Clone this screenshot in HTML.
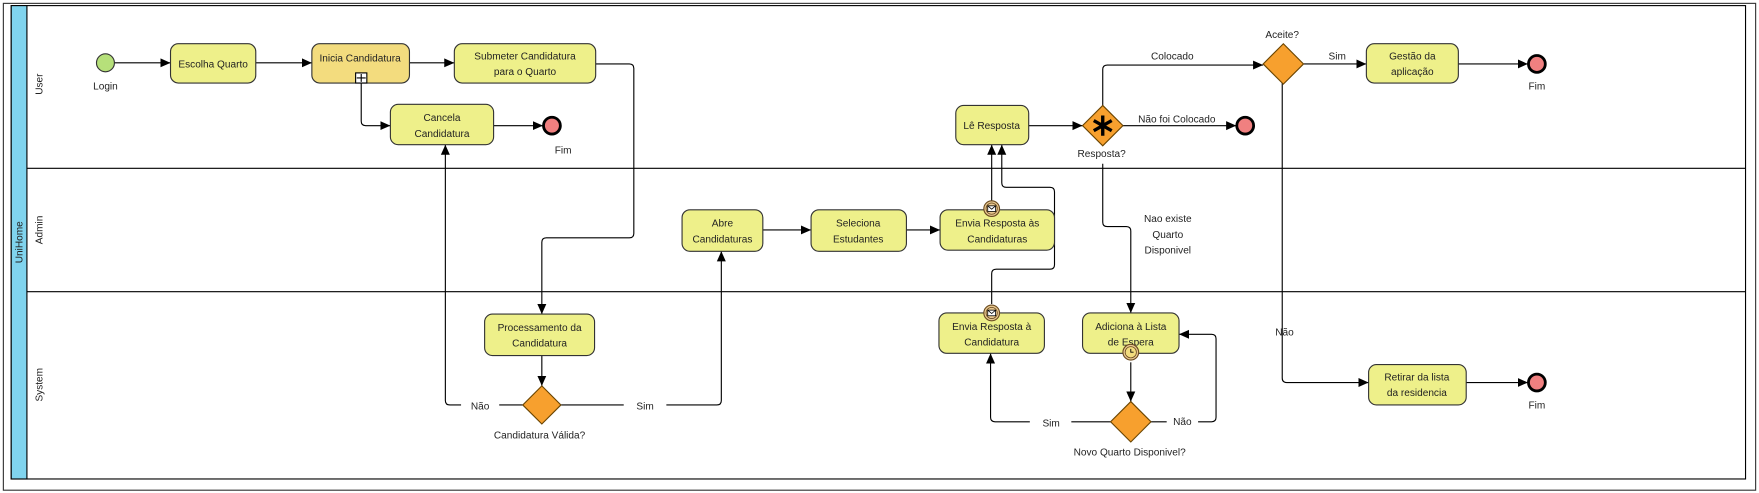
<!DOCTYPE html>
<html><head><meta charset="utf-8"><style>
html,body{margin:0;padding:0;background:#fff;}
svg{display:block;}
text{font-family:"Liberation Sans",sans-serif;font-size:9px;fill:#222;}
</style></head><body>
<svg width="1759" height="493" viewBox="0 0 1568 439.5" preserveAspectRatio="none" xmlns="http://www.w3.org/2000/svg">
<defs>
<marker id="a" markerWidth="10" markerHeight="10" refX="9" refY="5" orient="auto" markerUnits="userSpaceOnUse">
<path d="M0,1 L9,5 L0,9 Z" fill="#000"/></marker>
</defs>
<rect x="0" y="0" width="1568" height="439.5" fill="#fff"/>
<rect x="3" y="3" width="1562" height="434" fill="none" stroke="#333" stroke-width="1"/>
<rect x="10" y="5" width="1546" height="422" fill="#fff" stroke="#000" stroke-width="1"/>
<rect x="10" y="5" width="14" height="422" fill="#80d4ee" stroke="#000" stroke-width="1"/>
<line x1="24" y1="150" x2="1556" y2="150" stroke="#000"/>
<line x1="24" y1="260" x2="1556" y2="260" stroke="#000"/>
<text transform="translate(20,216) rotate(-90)" text-anchor="middle">UniHome</text>
<text transform="translate(38,75) rotate(-90)" text-anchor="middle">User</text>
<text transform="translate(38,205) rotate(-90)" text-anchor="middle">Admin</text>
<text transform="translate(38,343) rotate(-90)" text-anchor="middle">System</text>

<g fill="none" stroke="#000" stroke-width="1">
<line x1="102" y1="56" x2="152" y2="56" marker-end="url(#a)"/>
<line x1="228" y1="56" x2="278" y2="56" marker-end="url(#a)"/>
<line x1="365" y1="56" x2="405" y2="56" marker-end="url(#a)"/>
<path d="M322,74 V108 Q322,112 326,112 H348" marker-end="url(#a)"/>
<line x1="440" y1="112" x2="484" y2="112" marker-end="url(#a)"/>
<path d="M531,57 H561 Q565,57 565,61 V208 Q565,212 561,212 H487 Q483,212 483,216 V280" marker-end="url(#a)"/>
<line x1="483" y1="317" x2="483" y2="344" marker-end="url(#a)"/>
<path d="M466,361 H445 M411,361 H401 Q397,361 397,357 V129" marker-end="url(#a)"/>
<path d="M500,361 H556 M594,361 H639 Q643,361 643,357 V224" marker-end="url(#a)"/>
<line x1="680" y1="205" x2="723" y2="205" marker-end="url(#a)"/>
<line x1="808" y1="205" x2="838" y2="205" marker-end="url(#a)"/>
<line x1="884" y1="179" x2="884" y2="129" marker-end="url(#a)"/>
<path d="M884,271 V244 Q884,240 888,240 H936 Q940,240 940,236 V171 Q940,167 936,167 H897 Q893,167 893,163 V129" marker-end="url(#a)"/>
<line x1="917" y1="112" x2="965" y2="112" marker-end="url(#a)"/>
<line x1="1001" y1="112" x2="1102" y2="112" marker-end="url(#a)"/>
<path d="M983,94 V62 Q983,58 987,58 H1126" marker-end="url(#a)"/>
<path d="M983,146 V198 Q983,202 987,202 H1004 Q1008,202 1008,206 V279" marker-end="url(#a)"/>
<line x1="1008" y1="323" x2="1008" y2="358" marker-end="url(#a)"/>
<path d="M990,376 H955 M918,376 H887 Q883,376 883,372 V315" marker-end="url(#a)"/>
<path d="M1026,376 H1040 M1068,376 H1080 Q1084,376 1084,372 V302 Q1084,298 1080,298 H1051" marker-end="url(#a)"/>
<line x1="1162" y1="57" x2="1218" y2="57" marker-end="url(#a)"/>
<line x1="1300" y1="57" x2="1362" y2="57" marker-end="url(#a)"/>
<path d="M1143,74 V337 Q1143,341 1147,341 H1220" marker-end="url(#a)"/>
<line x1="1307" y1="341" x2="1362" y2="341" marker-end="url(#a)"/>
</g>

<circle cx="94" cy="56" r="8" fill="#b6e07a" stroke="#333" stroke-width="1"/>
<text x="94" y="80" text-anchor="middle">Login</text>

<g stroke="#333" stroke-width="1" fill="#eef08a">
<rect x="152" y="39" width="76" height="35" rx="7"/>
<rect x="278" y="39" width="87" height="35" rx="7" fill="#f3dc7e"/>
<rect x="405" y="39" width="126" height="35" rx="7"/>
<rect x="348" y="93" width="92" height="36" rx="7"/>
<rect x="432" y="280" width="98" height="37" rx="7"/>
<rect x="608" y="187" width="72" height="37" rx="7"/>
<rect x="723" y="187" width="85" height="37" rx="7"/>
<rect x="838" y="187" width="102" height="36" rx="7"/>
<rect x="852" y="94" width="65" height="35" rx="7"/>
<rect x="837" y="279" width="94" height="36" rx="7"/>
<rect x="965" y="279" width="86" height="36" rx="7"/>
<rect x="1218" y="39" width="82" height="35" rx="7"/>
<rect x="1220" y="325" width="87" height="36" rx="7"/>
</g>
<rect x="317" y="65" width="10" height="9" fill="#fff" stroke="#000"/>
<path d="M322,66 V73 M318,69.5 H326" stroke="#000"/>

<text x="190" y="60" text-anchor="middle">Escolha Quarto</text>
<text x="321" y="55" text-anchor="middle">Inicia Candidatura</text>
<text x="468" y="53" text-anchor="middle">Submeter Candidatura</text>
<text x="468" y="67" text-anchor="middle">para o Quarto</text>
<text x="394" y="108" text-anchor="middle">Cancela</text>
<text x="394" y="122" text-anchor="middle">Candidatura</text>
<text x="481" y="295" text-anchor="middle">Processamento da</text>
<text x="481" y="309" text-anchor="middle">Candidatura</text>
<text x="644" y="202" text-anchor="middle">Abre</text>
<text x="644" y="216" text-anchor="middle">Candidaturas</text>
<text x="765" y="202" text-anchor="middle">Seleciona</text>
<text x="765" y="216" text-anchor="middle">Estudantes</text>
<text x="889" y="202" text-anchor="middle">Envia Resposta às</text>
<text x="889" y="216" text-anchor="middle">Candidaturas</text>
<text x="884" y="115" text-anchor="middle">Lê Resposta</text>
<text x="884" y="294" text-anchor="middle">Envia Resposta à</text>
<text x="884" y="308" text-anchor="middle">Candidatura</text>
<text x="1008" y="294" text-anchor="middle">Adiciona à Lista</text>
<text x="1008" y="308" text-anchor="middle">de Espera</text>
<text x="1259" y="53" text-anchor="middle">Gestão da</text>
<text x="1259" y="67" text-anchor="middle">aplicação</text>
<text x="1263" y="339" text-anchor="middle">Retirar da lista</text>
<text x="1263" y="353" text-anchor="middle">da residencia</text>

<!-- message icons -->
<g>
<circle cx="884" cy="186" r="7" fill="#e8c890" stroke="#6a4a20"/>
<circle cx="884" cy="186" r="5" fill="none" stroke="#6a4a20" stroke-width="0.7"/>
<rect x="880.5" y="183.5" width="7" height="5" fill="#fff" stroke="#000" stroke-width="0.7"/>
<path d="M880.5,183.5 L884,186.5 L887.5,183.5" fill="none" stroke="#000" stroke-width="0.7"/>
<circle cx="884" cy="279" r="7" fill="#e8c890" stroke="#6a4a20"/>
<circle cx="884" cy="279" r="5" fill="none" stroke="#6a4a20" stroke-width="0.7"/>
<rect x="880.5" y="276.5" width="7" height="5" fill="#fff" stroke="#000" stroke-width="0.7"/>
<path d="M880.5,276.5 L884,279.5 L887.5,276.5" fill="none" stroke="#000" stroke-width="0.7"/>
<circle cx="1008" cy="314" r="7" fill="#e8c890" stroke="#6a4a20"/>
<circle cx="1008" cy="314" r="5" fill="#f3dc7e" stroke="#6a4a20" stroke-width="0.7"/>
<path d="M1008,311 V314 H1010.5" fill="none" stroke="#000" stroke-width="0.8"/>
</g>

<!-- gateways -->
<g fill="#f7a02e" stroke="#6a4400" stroke-width="1">
<path d="M483,344 L500,361 L483,378 L466,361 Z"/>
<path d="M983,94 L1001,112 L983,130 L965,112 Z"/>
<path d="M1008,358 L1026,376 L1008,394 L990,376 Z"/>
<path d="M1144,39 L1162,57 L1144,75 L1126,57 Z"/>
</g>
<path d="M983,103 V121 M975,107.5 L991,116.5 M975,116.5 L991,107.5" stroke="#000" stroke-width="3"/>

<!-- end events -->
<g fill="#f08080" stroke="#000" stroke-width="2.5">
<circle cx="492" cy="112" r="7.5"/>
<circle cx="1110" cy="112" r="7.5"/>
<circle cx="1370" cy="57" r="7.5"/>
<circle cx="1370" cy="341" r="7.5"/>
</g>
<text x="502" y="137" text-anchor="middle">Fim</text>
<text x="1370" y="80" text-anchor="middle">Fim</text>
<text x="1370" y="364" text-anchor="middle">Fim</text>

<text x="428" y="365" text-anchor="middle">Não</text>
<text x="575" y="365" text-anchor="middle">Sim</text>
<text x="481" y="391" text-anchor="middle">Candidatura Válida?</text>
<text x="982" y="140" text-anchor="middle">Resposta?</text>
<text x="1049" y="109" text-anchor="middle">Não foi Colocado</text>
<text x="1045" y="53" text-anchor="middle">Colocado</text>
<text x="1143" y="34" text-anchor="middle">Aceite?</text>
<text x="1192" y="53" text-anchor="middle">Sim</text>
<text x="1145" y="299" text-anchor="middle">Não</text>
<text x="1041" y="198" text-anchor="middle">Nao existe</text>
<text x="1041" y="212" text-anchor="middle">Quarto</text>
<text x="1041" y="226" text-anchor="middle">Disponivel</text>
<text x="937" y="380" text-anchor="middle">Sim</text>
<text x="1054" y="379" text-anchor="middle">Não</text>
<text x="1007" y="406" text-anchor="middle">Novo Quarto Disponivel?</text>
</svg>
</body></html>
